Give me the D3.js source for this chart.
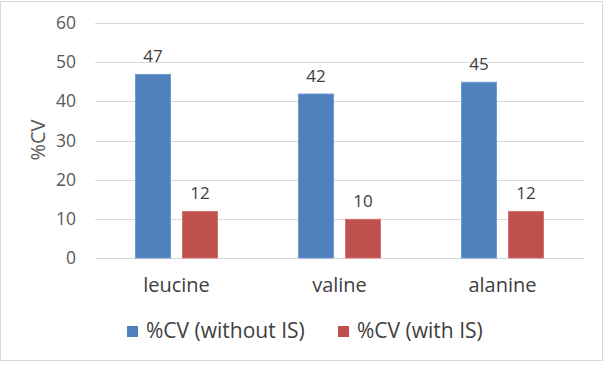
<!DOCTYPE html>
<html><head><meta charset="utf-8">
<script src="https://cdn.jsdelivr.net/npm/d3@7"></script>
<style>body{margin:0;background:#fff}svg{display:block;font-family:"Open Sans",sans-serif}</style>
</head><body>
<script>
const categories = ["leucine", "valine", "alanine"];
const seriesNames = ["%CV (without IS)", "%CV (with IS)"];
const withoutIS = [47, 42, 45];
const withIS = [12, 10, 12];
const yTicks = [0, 10, 20, 30, 40, 50, 60];
const colors = ["#4f81bd", "#c0504d"];
const strokes = ["#6f9bd1", "#d37370"];

const W = 606, H = 367;
const svg = d3.select("body").append("svg").attr("width", W).attr("height", H);
svg.append("rect").attr("x", 0.5).attr("y", 1.5).attr("width", 602).attr("height", 359)
  .attr("fill", "#fff").attr("stroke", "#d9d9d9");

const m = {l: 95, r: 584, t: 23, b: 258};
const x = d3.scaleBand().domain(categories).range([m.l, m.r]);
const y = d3.scaleLinear().domain([0, 60]).range([m.b, m.t]);

// gridlines
svg.append("g").selectAll("line").data(yTicks).join("line")
  .attr("x1", m.l).attr("x2", m.r)
  .attr("y1", d => Math.round(y(d)) + 0.5).attr("y2", d => Math.round(y(d)) + 0.5)
  .attr("stroke", "#d9d9d9").attr("stroke-width", 1);

// y axis labels
const yAxis = d3.axisLeft(y).tickValues(yTicks).tickSize(0).tickPadding(19);
const ya = svg.append("g").attr("transform", `translate(${m.l},0)`).call(yAxis);
ya.select(".domain").remove();
ya.selectAll("text").attr("fill", "#595959").style("font-size", "17.5px").style("font-family", "Open Sans, sans-serif");

// x axis labels
const xAxis = d3.axisBottom(x).tickSize(0).tickPadding(20);
const xa = svg.append("g").attr("transform", `translate(0,${m.b})`).call(xAxis);
xa.select(".domain").remove();
xa.selectAll("text").attr("fill", "#404040").style("font-size", "20px").style("font-family", "Open Sans, sans-serif");

// y title
svg.append("text").attr("transform", "translate(45,140) rotate(-90)")
  .attr("text-anchor", "middle").attr("fill", "#595959").style("font-size", "20px").text("%CV");

const inner = d3.scaleBand().domain([0, 1]).range([0, x.bandwidth()]).paddingInner(0.234).paddingOuter(0.851);
const series = [withoutIS, withIS];
series.forEach((vals, si) => {
  const g = svg.append("g");
  g.selectAll("rect").data(vals).join("rect")
    .attr("x", (d, i) => x(categories[i]) + inner(si) + 0.5)
    .attr("width", inner.bandwidth() - 1)
    .attr("y", d => y(d) + 0.5)
    .attr("height", d => y(0) - y(d) - 0.5)
    .attr("fill", colors[si]).attr("stroke", strokes[si]).attr("stroke-width", 1);
  g.selectAll("text").data(vals).join("text")
    .attr("x", (d, i) => x(categories[i]) + inner(si) + inner.bandwidth() / 2)
    .attr("y", d => y(d) - 12)
    .attr("text-anchor", "middle").attr("fill", "#404040").style("font-size", "17px")
    .text(d => d);
});

// legend
const legX = [127, 338];
seriesNames.forEach((n, i) => {
  svg.append("rect").attr("x", legX[i]).attr("y", 326).attr("width", 11).attr("height", 11).attr("fill", colors[i]);
  svg.append("text").attr("x", legX[i] + 19).attr("y", 338).attr("fill", "#404040")
    .style("font-size", "21px").text(n);
});
</script>
</body></html>
